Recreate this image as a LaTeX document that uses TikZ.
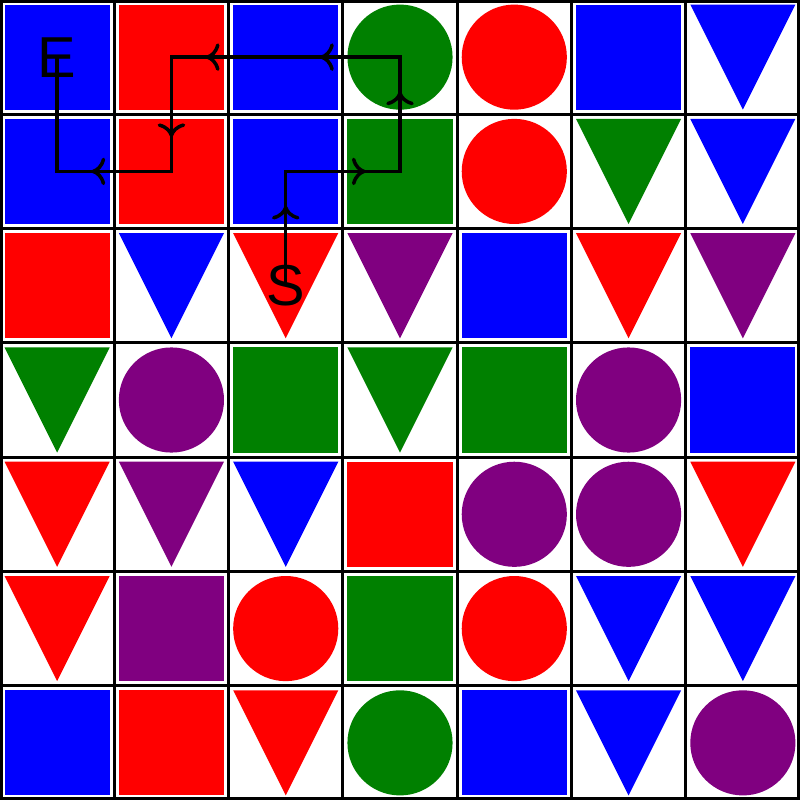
\documentclass[tikz,border=0pt]{standalone}
\usepackage{fontspec}
\setmainfont{Liberation Sans}
\usetikzlibrary{arrows.meta,decorations.markings}
\definecolor{bl}{HTML}{0000FF}
\definecolor{rd}{HTML}{FF0000}
\definecolor{gr}{HTML}{008000}
\definecolor{pu}{HTML}{800080}
% one shape per cell: #1 column, #2 row, #3 colour
\newcommand{\cellsq}[3]{\fill[#3] (#1+0.04,-#2-0.04) rectangle (#1+0.96,-#2-0.96);}
\newcommand{\cellci}[3]{\fill[#3] (#1+0.5,-#2-0.5) circle (0.46);}
\newcommand{\celltr}[3]{\fill[#3] (#1+0.04,-#2-0.04) -- (#1+0.96,-#2-0.04) -- (#1+0.5,-#2-0.96) -- cycle;}

\begin{document}
\begin{tikzpicture}[x=1.6cm,y=1.6cm,
    gridln/.style={line width=1.1pt},
    lbl/.style={font=\fontsize{23}{23}\selectfont,inner sep=0pt},
    trail/.style={line width=1.4pt,postaction={decorate},
      decoration={markings,mark=between positions 1.12cm and 12cm step 1.6cm with
        {\arrow{Computer Modern Rightarrow[length=5.5pt,width=11pt]}}}}
]
\useasboundingbox (0,0) rectangle (7,-7);
\fill[white] (0,0) rectangle (7,-7);
\foreach \row/\items in {
  0/{sq/bl,sq/rd,sq/bl,ci/gr,ci/rd,sq/bl,tr/bl},
  1/{sq/bl,sq/rd,sq/bl,sq/gr,ci/rd,tr/gr,tr/bl},
  2/{sq/rd,tr/bl,tr/rd,tr/pu,sq/bl,tr/rd,tr/pu},
  3/{tr/gr,ci/pu,sq/gr,tr/gr,sq/gr,ci/pu,sq/bl},
  4/{tr/rd,tr/pu,tr/bl,sq/rd,ci/pu,ci/pu,tr/rd},
  5/{tr/rd,sq/pu,ci/rd,sq/gr,ci/rd,tr/bl,tr/bl},
  6/{sq/bl,sq/rd,tr/rd,ci/gr,sq/bl,tr/bl,ci/pu}}{
  \foreach \sh/\cl [count=\c from 0] in \items {
    \csname cell\sh\endcsname{\c}{\row}{\cl}
    \coordinate (c\c-\row) at (\c+0.5,-\row-0.5);
  }
}
\draw[gridln,step=1] (0,0) grid (7,-7);
\draw[gridln,line width=2.2pt] (0,0) rectangle (7,-7);
\node[lbl] (start) at (c2-2) {S};
\node[lbl] (end) at (c0-0) {E};
\draw[trail] (start.center) -- (c2-1) -- (c3-1) -- (c3-0) -- (c2-0) -- (c1-0)
  -- (c1-1) -- (c0-1) -- (end.center);
\end{tikzpicture}
\end{document}
